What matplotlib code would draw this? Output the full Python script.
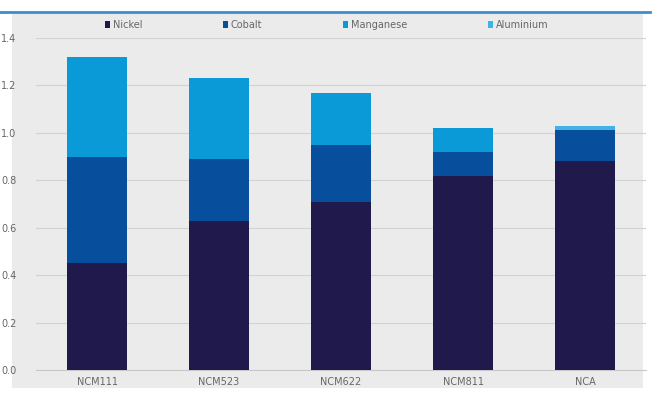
import matplotlib.pyplot as plt
from matplotlib.patches import Rectangle
from matplotlib.lines import Line2D
import numpy as np

# cathode chemistries and metal content per stack
categories = ["NCM111", "NCM523", "NCM622", "NCM811", "NCA"]
nickel = [0.45, 0.63, 0.71, 0.82, 0.88]
cobalt = [0.45, 0.26, 0.24, 0.10, 0.13]
manganese = [0.42, 0.34, 0.22, 0.10, 0.0]
aluminium = [0.0, 0.0, 0.0, 0.0, 0.02]
yticks = [0.0, 0.2, 0.4, 0.6, 0.8, 1.0, 1.2, 1.4]

series = ["Nickel", "Cobalt", "Manganese", "Aluminium"]
colors = ["#1f1a4b", "#074f9c", "#0a9ad8", "#3fb4e4"]

plt.rcParams['font.family'] = ['Liberation Sans Narrow', 'DejaVu Sans']

fig = plt.figure(figsize=(6.57, 4.01), dpi=100)
fig.patch.set_facecolor("white")

# grey panel behind the chart
fig.add_artist(Rectangle((12 / 657, 1 - 388 / 401), 631 / 657, 374 / 401,
                         transform=fig.transFigure, facecolor="#ebebeb",
                         edgecolor="none", zorder=0))
# blue rule at the top
fig.add_artist(Line2D([0, 0.99], [1 - 12 / 401, 1 - 12 / 401],
                      transform=fig.transFigure, color="#3a8ed0", lw=2))

ax = fig.add_axes([36 / 657, 1 - 370 / 401, 610 / 657, 332 / 401])
ax.set_facecolor("none")

x = np.arange(len(categories))
bottom = np.zeros(len(categories))
handles = []
for name, vals, c in zip(series, [nickel, cobalt, manganese, aluminium], colors):
    b = ax.bar(x, vals, 0.49, bottom=bottom, color=c, label=name, zorder=3)
    bottom += np.array(vals)
    handles.append(b)

ax.set_xlim(-0.5, len(categories) - 0.5)
ax.set_ylim(0, 1.4)
ax.set_yticks(yticks)
ax.set_yticklabels([f"{t:.1f}" for t in yticks])
ax.set_xticks(x)
ax.set_xticklabels(categories)
ax.grid(axis="y", color="#d2d2d2", lw=0.8, zorder=0)
for s in ["top", "right", "left"]:
    ax.spines[s].set_visible(False)
ax.spines["bottom"].set_color("#c8c8c8")
ax.tick_params(axis="both", length=0, labelsize=7, colors="#666666", pad=5)
ax.tick_params(axis="y", pad=14)

leg = fig.legend(handles, series, loc="center", bbox_to_anchor=(0.497, 1 - 25 / 401),
                 ncol=4, frameon=False, fontsize=7, handlelength=0.5,
                 handleheight=0.6, handletextpad=0.3, columnspacing=8.3)
for t in leg.get_texts():
    t.set_color("#666666")

fig.savefig("out.png", dpi=100)
